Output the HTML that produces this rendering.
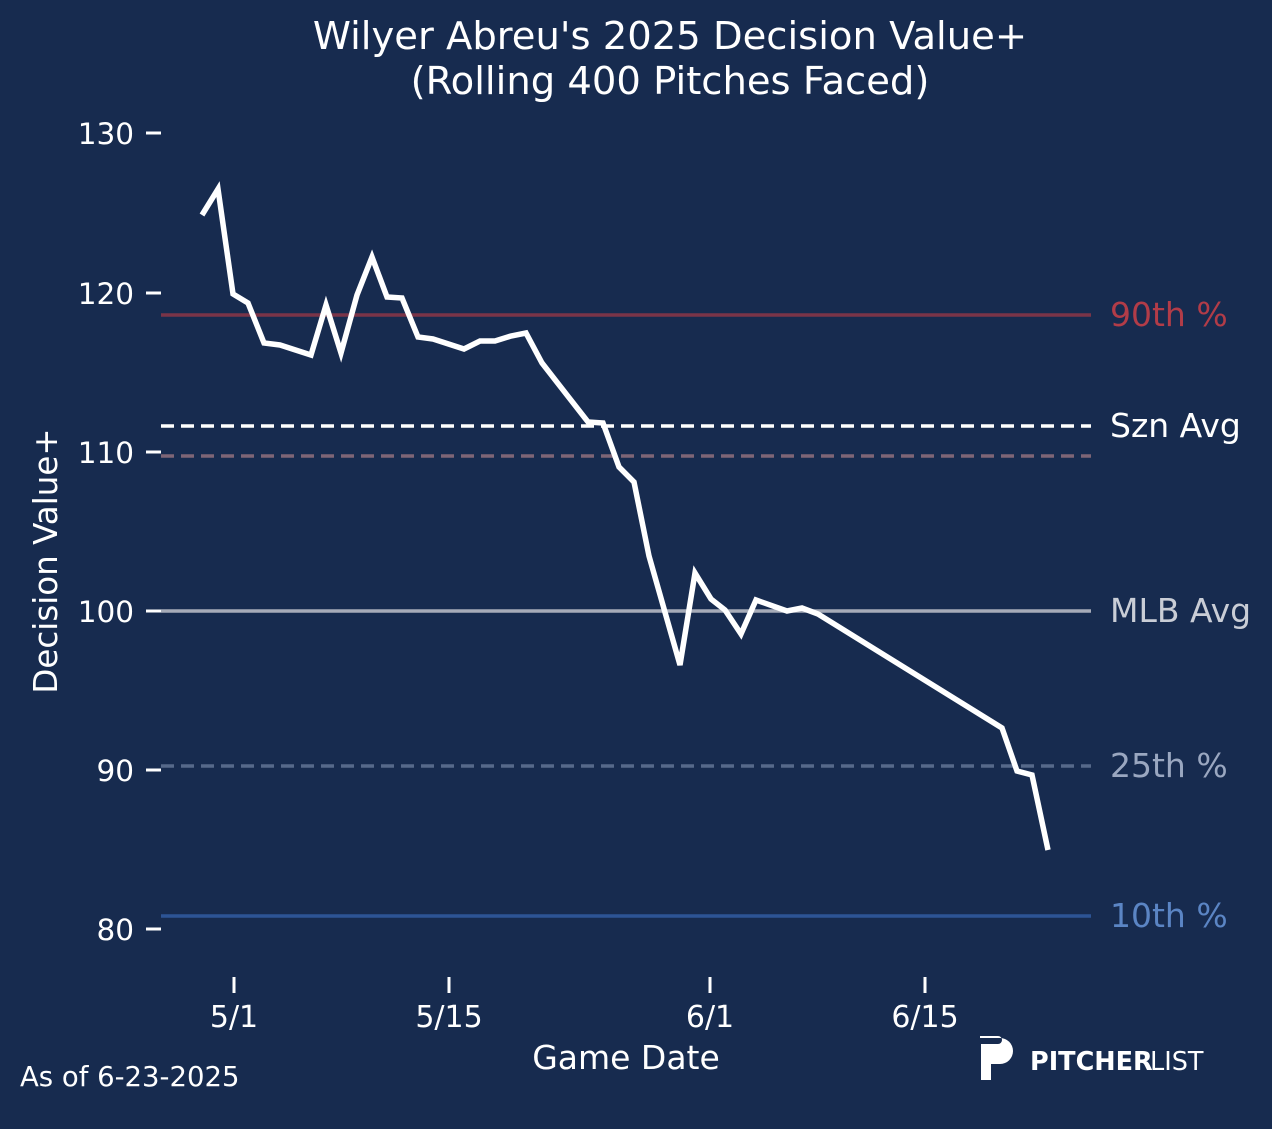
<!DOCTYPE html>
<html><head><meta charset="utf-8"><style>
body{margin:0;background:#172b4f;}
svg{display:block;font-family:"DejaVu Sans","Liberation Sans",sans-serif;}
</style></head><body>
<svg width="1272" height="1129" viewBox="0 0 1272 1129">
<rect width="1272" height="1129" fill="#172b4f"/>
<text x="670" y="49" fill="#fff" font-size="38.5" text-anchor="middle">Wilyer Abreu's 2025 Decision Value+</text>
<text x="670" y="94" fill="#fff" font-size="38.5" text-anchor="middle">(Rolling 400 Pitches Faced)</text>
<g stroke="#fff" stroke-width="3">
<line x1="146" y1="133" x2="161" y2="133"/><line x1="146" y1="293" x2="161" y2="293"/><line x1="146" y1="452" x2="161" y2="452"/><line x1="146" y1="611" x2="161" y2="611"/><line x1="146" y1="770" x2="161" y2="770"/><line x1="146" y1="929" x2="161" y2="929"/>
<line x1="234" y1="977" x2="234" y2="993"/><line x1="449" y1="977" x2="449" y2="993"/><line x1="710" y1="977" x2="710" y2="993"/><line x1="925" y1="977" x2="925" y2="993"/>
</g>
<g fill="#fff" font-size="29.5" text-anchor="end">
<text x="134" y="144">130</text><text x="134" y="304">120</text><text x="134" y="463">110</text><text x="134" y="622">100</text><text x="134" y="781">90</text><text x="134" y="940">80</text>
</g>
<g fill="#fff" font-size="30" text-anchor="middle">
<text x="234" y="1027">5/1</text><text x="449" y="1027">5/15</text><text x="710" y="1027">6/1</text><text x="925" y="1027">6/15</text>
</g>
<text x="626" y="1069" fill="#fff" font-size="33" text-anchor="middle">Game Date</text>
<text x="57" y="561" fill="#fff" font-size="32.5" text-anchor="middle" transform="rotate(-90 57 561)">Decision Value+</text>
<text x="20" y="1086" fill="#fff" font-size="27.5">As of 6-23-2025</text>
<line x1="161" y1="315" x2="1091" y2="315" stroke="#7a3448" stroke-width="3.5"/>
<line x1="161" y1="426" x2="1091" y2="426" stroke="#fff" stroke-width="3.5" stroke-dasharray="13,7"/>
<line x1="161" y1="456" x2="1091" y2="456" stroke="#7e6576" stroke-width="3.5" stroke-dasharray="13,7"/>
<line x1="161" y1="611" x2="1091" y2="611" stroke="#a6abb8" stroke-width="3.5"/>
<line x1="161" y1="766" x2="1091" y2="766" stroke="#56698a" stroke-width="3.5" stroke-dasharray="13,7"/>
<line x1="161" y1="916" x2="1091" y2="916" stroke="#2d5495" stroke-width="3.5"/>
<g font-size="33">
<text x="1110" y="326" fill="#b23c48">90th %</text>
<text x="1110" y="437" fill="#fff">Szn Avg</text>
<text x="1110" y="622" fill="#c9cdd6">MLB Avg</text>
<text x="1110" y="777" fill="#9aa7c0">25th %</text>
<text x="1110" y="927" fill="#5b85c4">10th %</text>
</g>
<polyline fill="none" stroke="#fff" stroke-width="5.5" stroke-linejoin="miter" points="202,215 218,189 233,294 248,303 264,343 280,345 311,355 326,305 341,353 357,295 372,257 387,297 402,298 418,337 433,339 464,349 480,341 495,341 511,336 526,333 542,363 588,422 603,423 619,467 634,482 649,556 680,665 695,573 711,599 725,610 741,634 756,600 787,611 802,608 818,614 1002,728 1017,771 1032,775 1048,850"/>
<path d="M980,1038 h20 a13,13 0 0 1 0,26 h-9 v16 h-10 v-36 h17 a4,4 0 0 0 0,-8 h-18 z" fill="#fff"/>
<text x="1030" y="1070" fill="#fff" font-size="25.5" font-weight="bold">PITCHER</text>
<text x="1150" y="1070" fill="#fff" font-size="25.5">LIST</text>
</svg>
</body></html>
